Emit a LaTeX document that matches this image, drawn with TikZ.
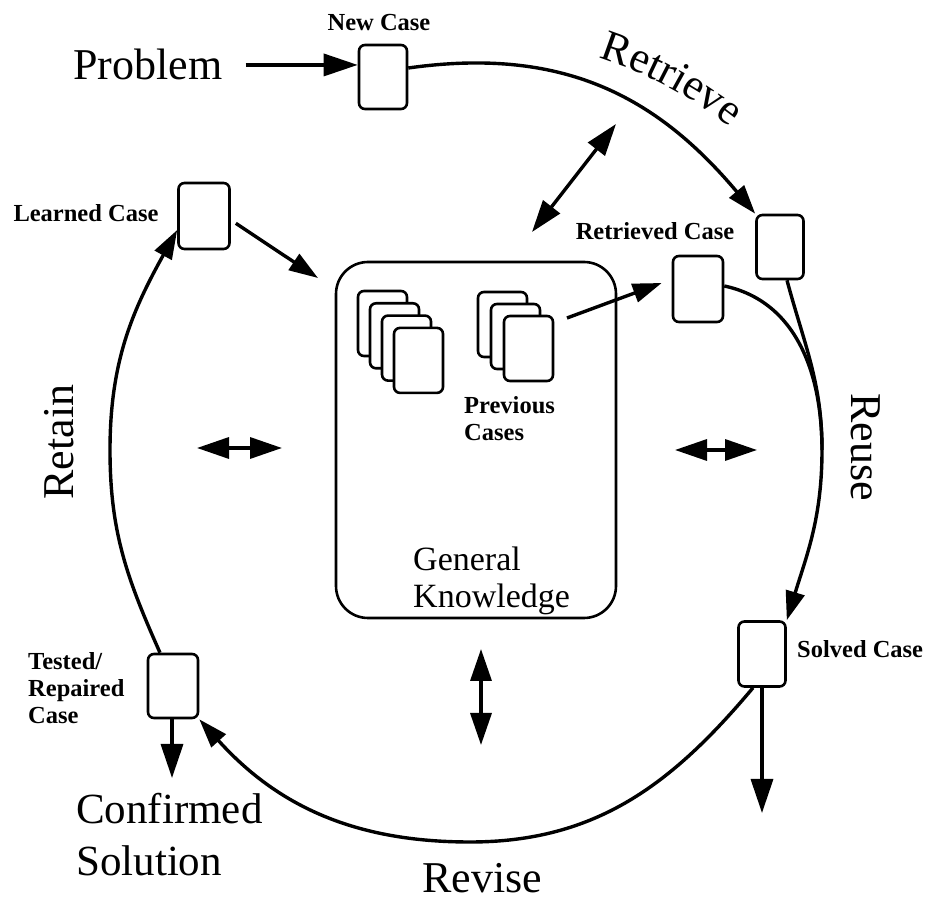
\documentclass[tikz,border=0pt]{standalone}
\usepackage{fontspec}
\setmainfont{Liberation Serif}
\usetikzlibrary{arrows.meta,decorations.text}
\begin{document}
\begin{tikzpicture}[x=1pt,y=1pt,
  casebox/.style={draw, line width=2.6pt, rounded corners=6pt, minimum width=48pt, minimum height=64pt, inner sep=0pt, fill=white},
  cyc/.style={line width=3.4pt},
  arr/.style={line width=3.4pt, -{Triangle[length=29pt,width=19pt]}},
  bigarr/.style={line width=3.4pt, -{Triangle[length=34pt,width=22pt]}},
  darr/.style={line width=3.4pt, {Triangle[length=32pt,width=21pt]}-{Triangle[length=32pt,width=21pt]}},
  big/.style={font=\fontsize{44}{48}\selectfont, inner sep=0pt},
  lab/.style={font=\fontsize{24.5}{27}\selectfont\bfseries, inner sep=0pt},
]
\useasboundingbox (0,0) rectangle (930,911);
\fill[white] (0,0) rectangle (930,911);

% General knowledge box
\node[draw, line width=2.6pt, rounded corners=32pt, minimum width=280pt, minimum height=356pt, inner sep=0pt] (gk) at (476,471) {};

% card stacks
\foreach \i in {0,...,3}
  \node[casebox, minimum width=49pt, minimum height=65pt] (lc\i) at ({382.5+12*\i},{587.5-12.3*\i}) {};
\foreach \i in {0,...,2}
  \node[casebox, minimum width=49pt, minimum height=65pt] (rc\i) at ({502.5+13*\i},{586.5-12*\i}) {};

% case boxes
\node[casebox] (newcase) at (383,834) {};
\node[casebox, minimum width=51pt, minimum height=66pt] (learned) at (204,695) {};
\node[casebox, minimum width=47pt] (retr) at (780,664) {};
\node[casebox, minimum width=50pt, minimum height=66pt] (retc) at (698,622) {};
\node[casebox, minimum width=47pt, minimum height=65pt] (solved) at (762,257) {};
\node[casebox, minimum width=50pt] (tested) at (173,225) {};

% texts
\node[big, anchor=base west] (problem) at (73,831) {Problem};
\node[lab, anchor=base] (tnew) at (379,880) {New Case};
\node[lab, anchor=base] (tlearned) at (86,689) {Learned Case};
\node[lab, anchor=base] (tretc) at (655,671) {Retrieved Case};
\node[lab, anchor=base west] (tsolved) at (797,253) {Solved Case};
\node[lab, anchor=west, align=left] (ttested) at (28,223) {Tested/\\Repaired\\Case};
\node[lab, anchor=west, align=left] (tprev) at (464,492) {Previous\\Cases};
\node[font=\fontsize{34}{37}\selectfont, inner sep=0pt, anchor=west, align=left] (tgk) at (413,330) {General\\Knowledge};
\node[font=\fontsize{43}{52}\selectfont, inner sep=0pt, anchor=west, align=left] (tconf) at (76,76) {Confirmed\\Solution};
\node[big, rotate=-90] (treuse) at (866,464) {Reuse};
\node[big, rotate=90] (tretain) at (59,469) {Retain};
\node[big, anchor=base] (trevise) at (482,18) {Revise};

% curved label Retrieve
\coordinate (cc) at (473,459);
\path[decorate, decoration={text along path, text align=center,
   text={|\fontsize{44}{48}\selectfont|Retrieve}}]
   ([shift={(75:414)}]cc) arc[start angle=75, end angle=49, radius=414];

% coordinates
\coordinate (merge) at (822,461);
\coordinate (revbot) at (470,69);
\coordinate (leftmid) at (110,461);
\coordinate (gkin) at (318,633);
\coordinate (prevout) at (567,593);
\coordinate (solvedout) at (762,98);
\coordinate (testedout) at (172,133);
\coordinate (da1) at (532,679); \coordinate (da2) at (616,787);
\coordinate (dl1) at (197,463); \coordinate (dl2) at (282,463);
\coordinate (dr1) at (675,461); \coordinate (dr2) at (757,461);
\coordinate (db1) at (481,262); \coordinate (db2) at (481,166);

% cycle
\draw[bigarr, shorten <=23pt] (problem.east) -- (problem.east -| newcase.west);
\draw[arr] ([yshift=9pt]newcase.east) to[out=8,in=130,looseness=1.05] (retr.north west);
\draw[arr] ([xshift=7pt]retr.south) to[out=-75,in=90] (merge) to[out=-90,in=73] (solved.north east);
\draw[cyc] ([yshift=3pt]retc.east) to[out=-12,in=90] (merge);
\draw[arr] ([xshift=-9pt]solved.south) to[out=-130,in=0] (revbot) to[out=180,in=-48] (tested.south east);
\draw[arr] ([xshift=-13pt]tested.north) to[out=114,in=-90] (leftmid) to[out=90,in=-119] ([yshift=-14pt]learned.west);
\draw[arr, shorten <=6pt] ([yshift=-4pt]learned.east) -- (gkin);
\draw[arr] (prevout) -- ([xshift=-10pt,yshift=6pt]retc.west);
\draw[bigarr] (solved.south) -- (solvedout);
\draw[bigarr] ([xshift=-1pt]tested.south) -- (testedout);

% double arrows
\draw[darr] (da1) -- (da2);
\draw[darr] (dl1) -- (dl2);
\draw[darr] (dr1) -- (dr2);
\draw[darr] (db1) -- (db2);
\end{tikzpicture}
\end{document}
